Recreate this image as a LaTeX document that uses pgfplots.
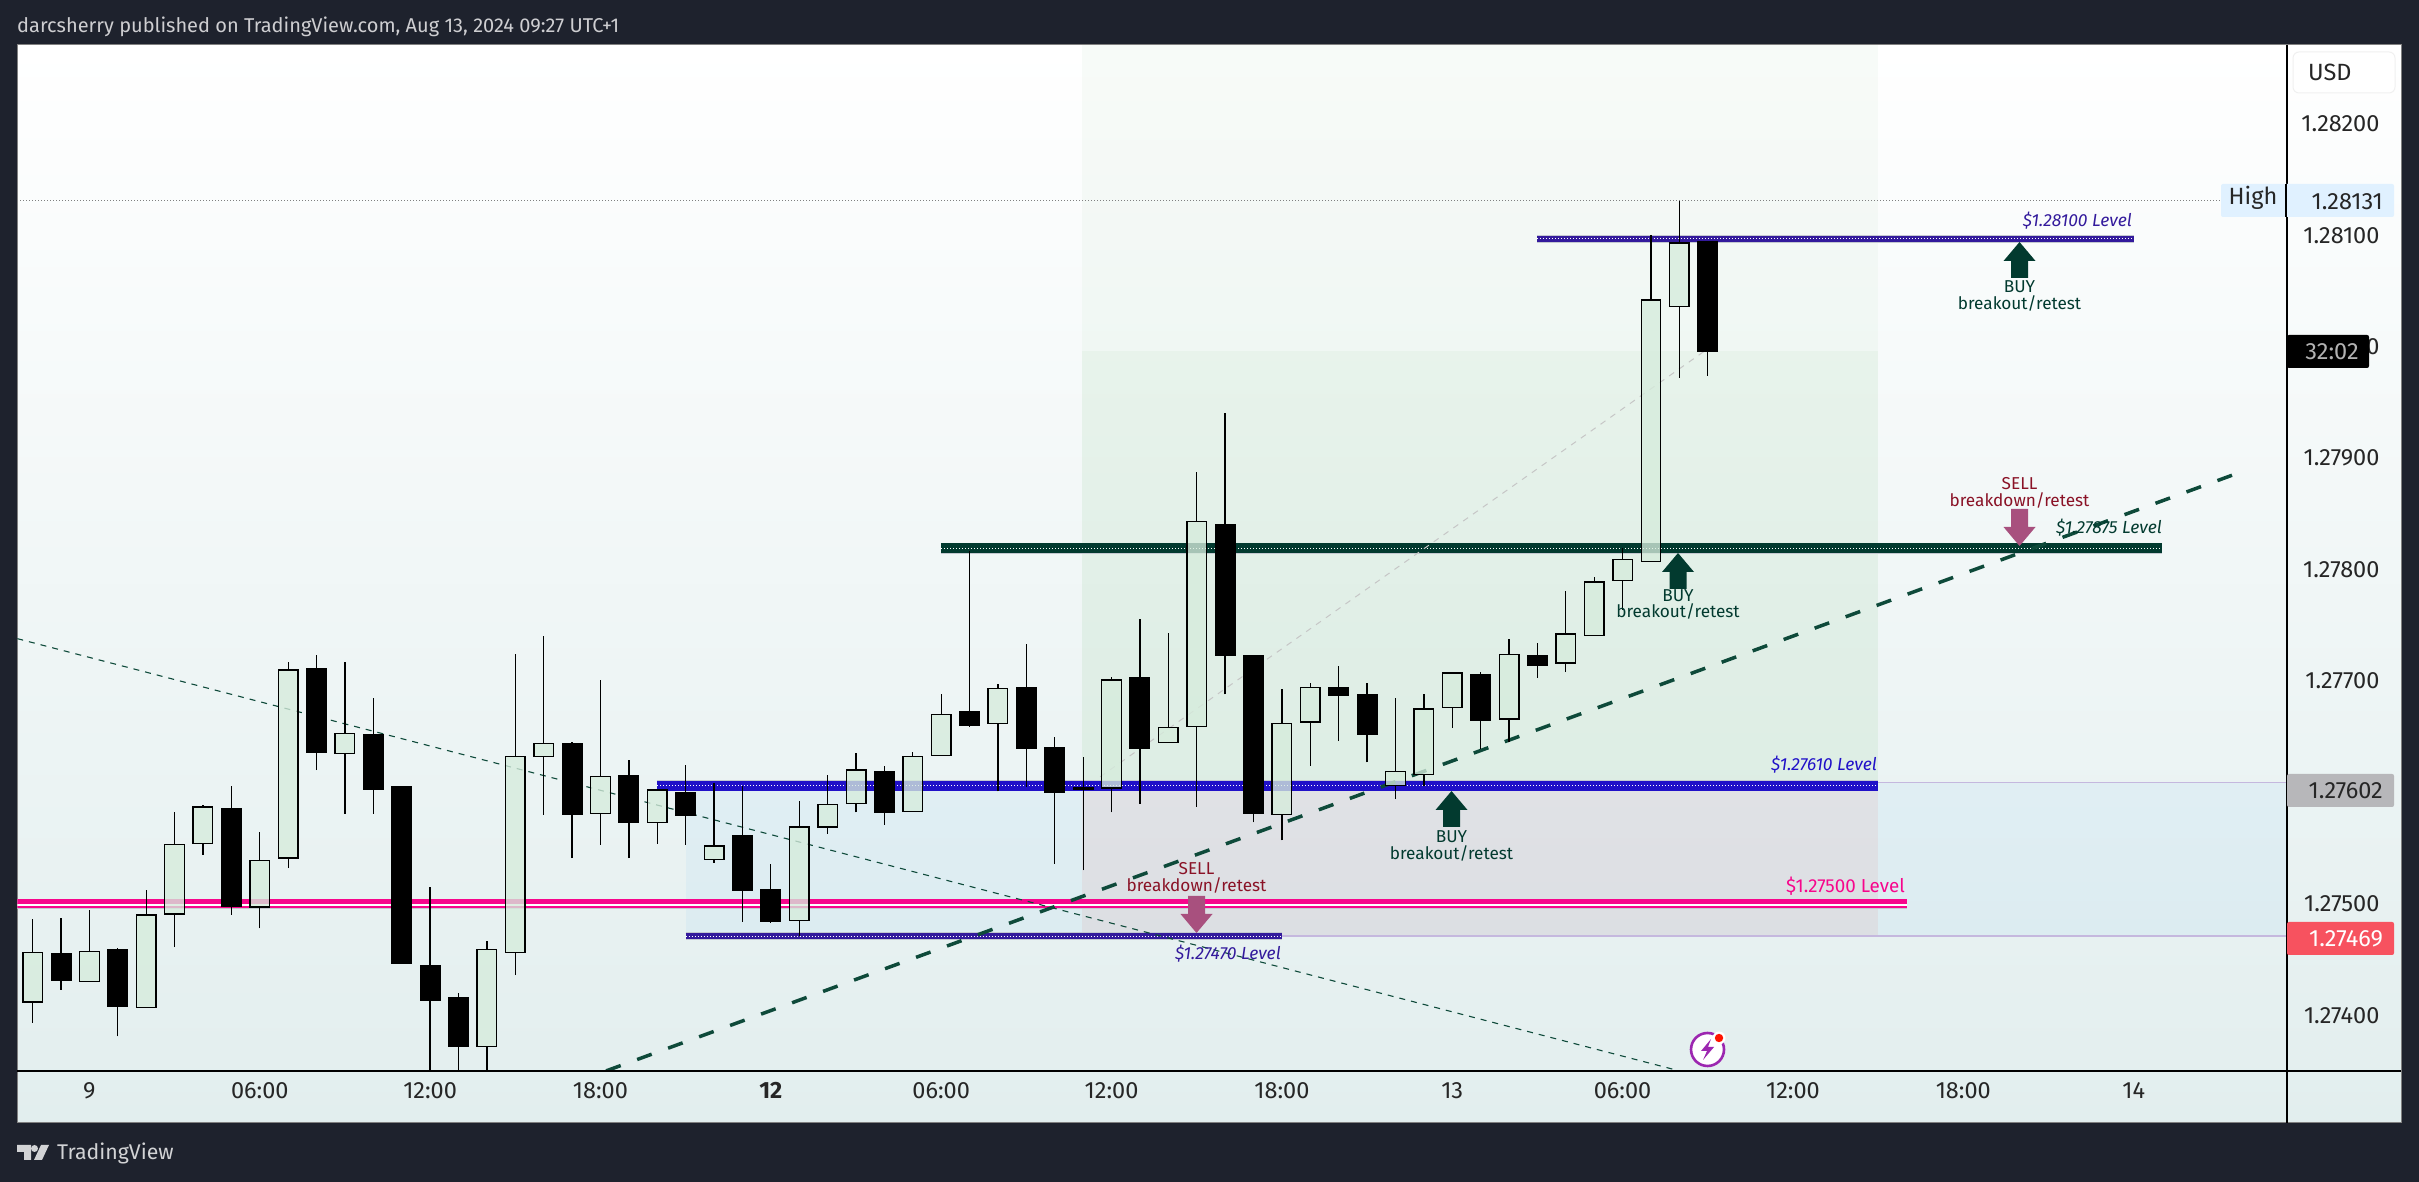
\documentclass[border=0pt]{standalone}
\usepackage{fontspec}
\setmainfont{Fira Sans}
\usepackage{pgfplots}
\pgfplotsset{compat=1.18}
\definecolor{dark}{HTML}{1E222D}
\definecolor{panelb}{HTML}{E2EEEE}
\definecolor{candle}{HTML}{D6ECDC}
\definecolor{lvlblue}{HTML}{2010C8}
\definecolor{lvlind}{HTML}{331A9C}
\definecolor{lvlgreen}{HTML}{023A2F}
\definecolor{lvlpink}{HTML}{F7068C}
\definecolor{trend}{HTML}{0E4A3A}
\definecolor{sellc}{HTML}{A8507E}
\definecolor{selltxt}{HTML}{8A1226}
\definecolor{rng}{HTML}{C5B8DE}
\definecolor{edge}{HTML}{C4C8D0}
\definecolor{zblue}{HTML}{2196F3}
\definecolor{zgreen}{HTML}{4CAF50}
\definecolor{zred}{HTML}{E53935}
\newcommand{\candleplot}[7]{%
  \pgfmathsetmacro\xa{#1-0.345}\pgfmathsetmacro\xb{#1+0.345}%
  \addplot[forget plot,black,line width=1.3pt] coordinates {(#1,#3)(#1,#2)};
  \addplot[forget plot,black,line width=1.3pt] coordinates {(#1,#5)(#1,#4)};
  \edef\tmp{\noexpand\addplot[forget plot,draw=black,line width=1.4pt,fill=#6,fill opacity=#7] coordinates {(\xa,#4)(\xb,#4)(\xb,#3)(\xa,#3)} --cycle;}\tmp}
\newcommand{\up}[5]{\candleplot{#1}{#2}{#3}{#4}{#5}{candle}{0.78}}
\newcommand{\dn}[5]{\candleplot{#1}{#2}{#3}{#4}{#5}{black}{1}}
\newcommand{\level}[5]{% x0,x1,price,colour,width
  \addplot[forget plot,edge,line width=#5pt+1.6pt] coordinates {(#1,#3)(#2,#3)};
  \addplot[forget plot,#4,line width=#5pt] coordinates {(#1,#3)(#2,#3)};}
\newcommand{\zone}[6]{\addplot[forget plot,draw=none,fill=#5,fill opacity=#6] coordinates {(#1,#3)(#2,#3)(#2,#4)(#1,#4)} --cycle;}
\newcommand{\buyarrow}[2]{\fill[lvlgreen] (#1,#2) -- ++(16,19) -- ++(-7.5,0) -- ++(0,17) -- ++(-17,0) -- ++(0,-17) -- ++(-7.5,0) -- cycle;}
\newcommand{\sellarrow}[2]{\fill[sellc] (#1,#2) -- ++(16,-19) -- ++(-7.5,0) -- ++(0,-18) -- ++(-17,0) -- ++(0,18) -- ++(-7.5,0) -- cycle;}
\begin{document}
\begin{tikzpicture}
\begin{scope}[shift={(0,1182pt)},x=1pt,y=-1pt]
 \fill[dark] (0,0) rectangle (2419,1182);
 \shade[top color=white,bottom color=panelb] (17.3,45) rectangle (2401,1123);
 \draw[gray,line width=1pt] (17.3,45) rectangle (2401,1123);
\end{scope}
\begin{axis}[at={(17.3pt,111pt)},anchor=south west,scale only axis,width=2269.7pt,height=1026pt,
 xmin=-0.54,xmax=79.4,ymin=1.273499,ymax=1.282709,
 axis line style={draw=none},major tick length=0pt,axis on top=false,
 xtick={2,8,14,20,26,32,38,44,50,56,62,68,74},
 xticklabels={9,06:00,12:00,18:00,\textbf{12},06:00,12:00,18:00,13,06:00,12:00,18:00,14},
 ytick={1.274,1.275,1.277,1.278,1.279,1.28,1.281,1.282},
 yticklabel pos=right,scaled y ticks=false,
 yticklabel style={/pgf/number format/.cd,fixed,fixed zerofill,precision=5,assume math mode=true,/tikz/.cd,anchor=east,xshift=96pt,font=\fontsize{23.5}{25}\selectfont,text=black!85},
 xticklabel style={font=\fontsize{23.5}{25}\selectfont,text=black!85,yshift=-8pt,anchor=north},
 clip=true]
% zones
\zone{36.96}{65}{1.27996}{1.282709}{zgreen}{0.04}
\zone{36.96}{65}{1.27609}{1.27996}{zgreen}{0.085}
\zone{23}{79.4}{1.27471}{1.27609}{zblue}{0.05}
\zone{36.96}{65}{1.27471}{1.27609}{zred}{0.07}
% range borders and High line
\addplot[forget plot,rng,line width=1.2pt] coordinates {(65,1.27609)(79.4,1.27609)};
\addplot[forget plot,rng,line width=1.2pt] coordinates {(44,1.27471)(79.4,1.27471)};
\addplot[forget plot,gray,line width=1pt,dotted] coordinates {(-0.54,1.28131)(77.05,1.28131)};
% levels
\level{-0.54}{66}{1.27500}{lvlpink}{8.6}
\addplot[forget plot,white,line width=1.5pt] coordinates {(-0.54,1.27499)(66,1.27499)};
\level{22}{65}{1.27606}{lvlblue}{10}
\addplot[forget plot,white,line width=1pt,dash pattern=on 1pt off 2pt] coordinates {(22,1.27606)(65,1.27606)};
\level{23}{44}{1.27471}{lvlind}{5.6}
\addplot[forget plot,white,line width=1pt,dash pattern=on 1pt off 2pt] coordinates {(23,1.27471)(44,1.27471)};
\level{32}{75}{1.27819}{lvlgreen}{10}
\addplot[forget plot,white,line width=1pt,dash pattern=on 1pt off 2pt] coordinates {(32,1.27819)(75,1.27819)};
\level{53}{74}{1.28097}{lvlind}{6.4}
\addplot[forget plot,white,line width=1pt,dash pattern=on 1pt off 2pt] coordinates {(53,1.28097)(74,1.28097)};
% trend lines
\addplot[forget plot,trend,line width=3.5pt,dash pattern=on 15.5pt off 17.5pt] coordinates {(20.2,1.2735)(77.5,1.27885)};
\addplot[forget plot,trend,line width=1.1pt,dash pattern=on 6pt off 6pt] coordinates {(-0.54,1.27738)(58,1.2735)};
\addplot[forget plot,gray!45,line width=1pt,dash pattern=on 6pt off 6pt] coordinates {(37.6,1.27614)(59.1,1.28)};
% candles: index, high, body top, body bottom, low
\up{0}{1.27486}{1.27456}{1.27412}{1.27393}
\dn{1}{1.27487}{1.27455}{1.27431}{1.27423}
\up{2}{1.27494}{1.27457}{1.27430}{1.27430}
\dn{3}{1.27460}{1.27459}{1.27408}{1.27381}
\up{4}{1.27512}{1.27490}{1.27407}{1.27407}
\up{5}{1.27582}{1.27553}{1.27491}{1.27461}
\up{6}{1.27589}{1.27587}{1.27554}{1.27544}
\dn{7}{1.27606}{1.27585}{1.27498}{1.27490}
\up{8}{1.27564}{1.27539}{1.27497}{1.27478}
\up{9}{1.27717}{1.27710}{1.27541}{1.27532}
\dn{10}{1.27723}{1.27711}{1.27636}{1.27620}
\up{11}{1.27717}{1.27653}{1.27635}{1.27581}
\dn{12}{1.27685}{1.27652}{1.27603}{1.27581}
\dn{13}{1.27605}{1.27605}{1.27447}{1.27447}
\dn{14}{1.27515}{1.27444}{1.27413}{1.27330}
\dn{15}{1.27420}{1.27416}{1.27372}{1.27330}
\up{16}{1.27467}{1.27459}{1.27372}{1.27330}
\up{17}{1.27724}{1.27632}{1.27456}{1.27436}
\up{18}{1.27740}{1.27644}{1.27632}{1.27580}
\dn{19}{1.27645}{1.27644}{1.27580}{1.27541}
\up{20}{1.27701}{1.27614}{1.27581}{1.27553}
\dn{21}{1.27629}{1.27615}{1.27573}{1.27541}
\up{22}{1.27602}{1.27602}{1.27573}{1.27554}
\dn{23}{1.27625}{1.27600}{1.27579}{1.27553}
\up{24}{1.27608}{1.27552}{1.27540}{1.27537}
\dn{25}{1.27606}{1.27561}{1.27512}{1.27484}
\dn{26}{1.27536}{1.27513}{1.27484}{1.27483}
\up{27}{1.27592}{1.27569}{1.27485}{1.27471}
\up{28}{1.27616}{1.27589}{1.27569}{1.27563}
\up{29}{1.27635}{1.27620}{1.27590}{1.27582}
\dn{30}{1.27624}{1.27619}{1.27582}{1.27571}
\up{31}{1.27636}{1.27632}{1.27583}{1.27583}
\up{32}{1.27688}{1.27670}{1.27633}{1.27633}
\dn{33}{1.27817}{1.27672}{1.27660}{1.27659}
\up{34}{1.27697}{1.27693}{1.27662}{1.27601}
\dn{35}{1.27733}{1.27694}{1.27640}{1.27605}
\dn{36}{1.27650}{1.27640}{1.27600}{1.27536}
\up{37}{1.27632}{1.27604}{1.27603}{1.27530}
\up{38}{1.27704}{1.27701}{1.27604}{1.27582}
\dn{39}{1.27756}{1.27703}{1.27640}{1.27590}
\up{40}{1.27743}{1.27658}{1.27645}{1.27645}
\up{41}{1.27888}{1.27843}{1.27659}{1.27587}
\dn{42}{1.27941}{1.27840}{1.27723}{1.27688}
\dn{43}{1.27723}{1.27723}{1.27581}{1.27573}
\up{44}{1.27693}{1.27662}{1.27580}{1.27557}
\up{45}{1.27698}{1.27694}{1.27663}{1.27624}
\dn{46}{1.27713}{1.27694}{1.27687}{1.27646}
\dn{47}{1.27698}{1.27688}{1.27652}{1.27627}
\up{48}{1.27685}{1.27619}{1.27606}{1.27594}
\up{49}{1.27688}{1.27675}{1.27616}{1.27606}
\up{50}{1.27707}{1.27707}{1.27676}{1.27658}
\dn{51}{1.27708}{1.27706}{1.27665}{1.27639}
\up{52}{1.27738}{1.27724}{1.27666}{1.27645}
\dn{53}{1.27734}{1.27723}{1.27714}{1.27703}
\up{54}{1.27781}{1.27742}{1.27716}{1.27708}
\up{55}{1.27793}{1.27789}{1.27741}{1.27741}
\up{56}{1.27819}{1.27809}{1.27790}{1.27764}
\up{57}{1.28100}{1.28042}{1.27807}{1.27807}
\up{58}{1.28131}{1.28093}{1.28036}{1.27972}
\dn{59}{1.28094}{1.28094}{1.27996}{1.27974}
\end{axis}
\begin{scope}[shift={(0,1182pt)},x=1pt,y=-1pt]
 % axis lines
 \draw[black,line width=2pt] (17.3,1071) -- (2401,1071);
 \draw[black,line width=2pt] (2287,45) -- (2287,1123);
 % header / footer
 \node[anchor=west,text=white!78!dark,font=\fontsize{20}{24}\selectfont,inner sep=0pt] at (17,27) {darcsherry published on TradingView.com, Aug 13, 2024 09:27 UTC+1};
 \fill[white!80!dark] (17,1145) -- (31,1145) -- (31,1160) -- (24,1160) -- (24,1152) -- (17,1152) -- cycle;
 \fill[white!80!dark] (34.5,1148.5) circle (3.5);
 \fill[white!80!dark] (41,1145) -- (49,1145) -- (42,1160) -- (34,1160) -- cycle;
 \node[anchor=west,text=white!80!dark,font=\fontsize{21.3}{25}\selectfont,inner sep=0pt] at (57,1153) {TradingView};
 % USD
 \draw[draw=black!6,fill=white,rounded corners=6pt,line width=1pt] (2293,52) rectangle (2395,93);
 \node[anchor=west,text=black!85,font=\fontsize{23.5}{25}\selectfont,inner sep=0pt] at (2308,72) {USD};
 % tags
 \fill[blue!45!cyan!12!white,rounded corners=2pt] (2221,184) rectangle (2394,217);
 \draw[black,line width=1.5pt] (2286,184) -- (2286,217);
 \node[text=black!85,font=\fontsize{23.5}{25}\selectfont,inner sep=0pt] at (2253,198) {High};
 \node[anchor=east,text=black!85,font=\fontsize{23.5}{25}\selectfont,inner sep=0pt] at (2383,202) {1.28131};
 \fill[black,rounded corners=2pt] (2287,335) rectangle (2369,368);
 \node[text=black!30,font=\fontsize{23.5}{25}\selectfont,inner sep=0pt] at (2332,352) {32:02};
 \fill[black!30!blue!3!gray!55,rounded corners=2pt] (2287,774) rectangle (2394,807);
 \node[anchor=east,text=black!85,font=\fontsize{23.5}{25}\selectfont,inner sep=0pt] at (2383,791) {1.27602};
 \definecolor{redtag}{HTML}{F7525F}
 \fill[redtag,rounded corners=2pt] (2287,922) rectangle (2394,955);
 \node[anchor=east,text=white,font=\fontsize{23.5}{25}\selectfont,inner sep=0pt] at (2383,939) {1.27469};
 % level labels
 \newcommand{\lab}[4]{\node[anchor=east,text=#4,font=\fontsize{17.5}{19}\selectfont\itshape,inner sep=0pt] at (#1,#2) {#3};}
 \lab{1281}{954}{\$1.27470 Level}{lvlind}
 \lab{2132}{221}{\$1.28100 Level}{lvlind}
 \lab{2162}{528}{\$1.27875 Level}{lvlgreen}
 \lab{1877}{765}{\$1.27610 Level}{lvlblue}
 \node[anchor=east,text=lvlpink,font=\fontsize{18.8}{20}\selectfont,inner sep=0pt] at (1905,886) {\$1.27500 Level};
 % arrows and texts
 \buyarrow{1451.5}{791}
 \buyarrow{1678}{553}
 \buyarrow{2019.5}{242}
 \sellarrow{1196.5}{933}
 \sellarrow{2019.5}{546}
 \newcommand{\tw}[5]{\node[text=#5,font=\fontsize{17.2}{19}\selectfont,inner sep=0pt] at (#1,#2) {#3};\node[text=#5,font=\fontsize{17.2}{19}\selectfont,inner sep=0pt] at (#1,#2+16) {#4};}
 \tw{1451.5}{837}{BUY}{breakout/retest}{lvlgreen}
 \tw{1678}{595.5}{BUY}{breakout/retest}{lvlgreen}
 \tw{2019.5}{287}{BUY}{breakout/retest}{lvlgreen}
 \tw{1196.5}{869}{SELL}{breakdown/retest}{selltxt}
 \tw{2019.5}{484}{SELL}{breakdown/retest}{selltxt}
 % icon
 \definecolor{boltp}{HTML}{9C27B0}
 \draw[boltp,fill=white,line width=2.6pt] (1707.5,1049.5) circle (16.5);
 \fill[boltp] (1711,1039) -- (1701,1051) -- (1707,1051) -- (1703,1060) -- (1714,1047) -- (1708,1047) -- cycle;
 \fill[white] (1719,1038) circle (6.5);
 \fill[red!85!orange] (1719,1038) circle (4.2);
\end{scope}
\end{tikzpicture}
\end{document}
